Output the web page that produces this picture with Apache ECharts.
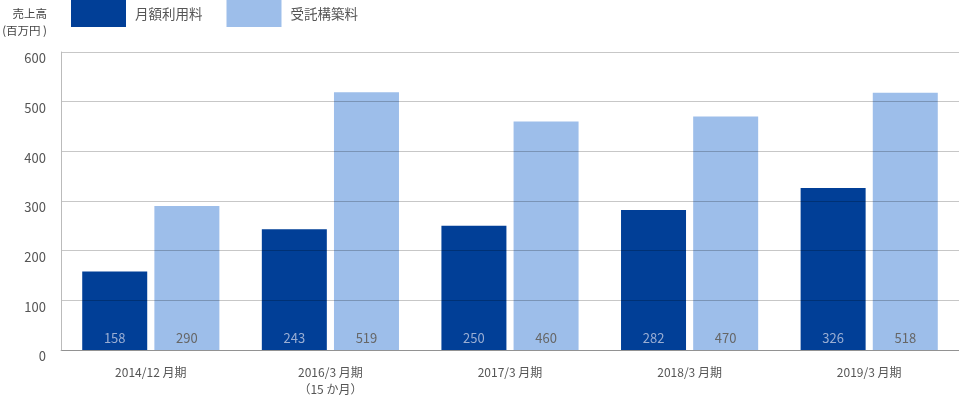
<!DOCTYPE html>
<html><head><meta charset="utf-8">
<script src="https://cdn.jsdelivr.net/npm/echarts@6/dist/echarts.min.js"></script>
<style>html,body{margin:0;padding:0;background:#fff}#c{width:959px;height:395px}</style>
</head><body><div id="c"></div>
<script>
const categories = ['2014/12 月期', '2016/3 月期\n（15 か月）', '2017/3 月期', '2018/3 月期', '2019/3 月期'];
const seriesNames = ['月額利用料', '受託構築料'];
const monthlyFee = [158, 243, 250, 282, 326];
const contractFee = [290, 519, 460, 470, 518];
const yTicks = [0, 100, 200, 300, 400, 500, 600];

const FONT = '"Noto Sans CJK JP", "Noto Sans", sans-serif';
const chart = echarts.init(document.getElementById('c'));
chart.setOption({
  animation: false,
  textStyle: { fontFamily: FONT },
  legend: {
    left: 71, top: 0, padding: 0, itemWidth: 55, itemHeight: 27, itemGap: 24,
    icon: 'rect',
    textStyle: { fontSize: 13.5, color: '#555', fontFamily: FONT, padding: [0, 0, 0, 4] },
    data: seriesNames
  },
  graphic: [{
    type: 'text', x: 47, y: 5,
    style: { text: '売上高\n(百万円 )', fontSize: 11.5, lineHeight: 17, fill: '#444', align: 'right', fontFamily: FONT }
  }],
  grid: { left: 61, right: 0, top: 52, bottom: 45, outerBoundsMode: 'none', containLabel: false },
  xAxis: {
    type: 'category', data: categories,
    axisLine: { lineStyle: { color: '#bbb' } },
    axisTick: { show: false },
    axisLabel: { color: '#555', fontSize: 12, margin: 14, lineHeight: 17, fontFamily: FONT }
  },
  yAxis: {
    type: 'value', min: yTicks[0], max: yTicks[yTicks.length - 1], interval: 100,
    z: 5,
    axisLine: { show: true, lineStyle: { color: '#bbb' } },
    axisTick: { show: false },
    axisLabel: { color: '#555', fontSize: 13, margin: 15, verticalAlign: 'top', lineHeight: 13, fontFamily: FONT },
    splitLine: { lineStyle: { color: 'rgba(0,0,0,0.22)' } }
  },
  series: [
    {
      name: seriesNames[0], type: 'bar', data: monthlyFee,
      barWidth: 65, barGap: '11%',
      itemStyle: { color: '#013f97' },
      label: { show: true, position: 'insideBottom', distance: 5, color: '#9aaed3', fontSize: 13, fontFamily: FONT }
    },
    {
      name: seriesNames[1], type: 'bar', data: contractFee,
      barWidth: 65,
      itemStyle: { color: '#9dbeea' },
      label: { show: true, position: 'insideBottom', distance: 5, color: '#666', fontSize: 13, fontFamily: FONT }
    }
  ]
});
</script></body></html>
